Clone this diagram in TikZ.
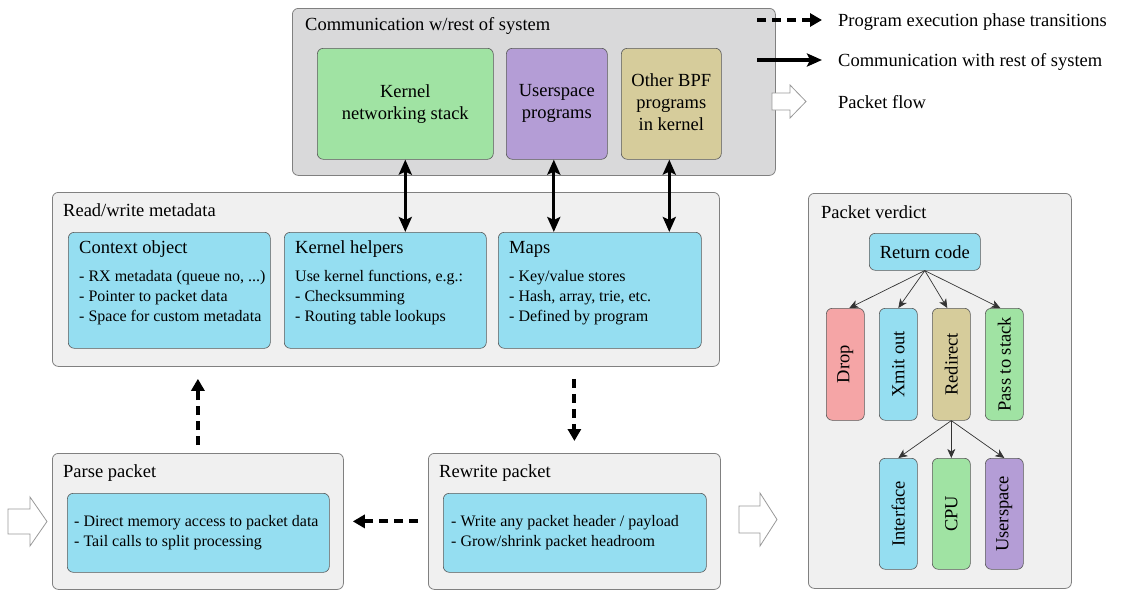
\documentclass[tikz,border=0pt]{standalone}
\usepackage{fontspec}
\setmainfont{Liberation Serif}
\usetikzlibrary{arrows.meta}
\definecolor{panelgray}{HTML}{D9D9DA}
\definecolor{panellight}{HTML}{F0F0F0}
\definecolor{cardblue}{HTML}{95DEF1}
\definecolor{cardgreen}{HTML}{A0E3A3}
\definecolor{cardpurple}{HTML}{B49DD6}
\definecolor{cardkhaki}{HTML}{D6CC9B}
\definecolor{cardred}{HTML}{F5A5A6}
\begin{document}
\begin{tikzpicture}[x=1pt,y=-1pt,
  panel/.style={draw=black!50, line width=0.8pt, rounded corners=6pt, anchor=north west, inner sep=0pt},
  card/.style={draw=black!65, line width=0.6pt, rounded corners=6pt, anchor=north west, inner sep=0pt},
  big/.style={font=\fontsize{18.5}{22}\selectfont},
  small/.style={font=\fontsize{16}{20}\selectfont},
  title/.style={big, anchor=base west, inner sep=0pt, yshift=-6pt},
  item/.style={small, anchor=base west, inner sep=0pt, yshift=-5.5pt},
  ctext/.style={big, align=center, inner sep=0pt},
  vtext/.style={big, rotate=90, inner sep=0pt},
  phase/.style={line width=4pt, dash pattern=on 9pt off 6pt, -{Triangle[length=12pt,width=13pt]}},
  syscomm/.style={line width=3.2pt, {Stealth[length=15pt,width=13pt,inset=3pt]}-{Stealth[length=15pt,width=13pt,inset=3pt]}},
  legcomm/.style={line width=3.2pt, -{Stealth[length=15pt,width=13pt,inset=3pt]}},
  branch/.style={draw=black!80, line width=0.7pt, -{Stealth[length=9pt,width=8pt,inset=2.5pt]}},
  flow/.style={draw=black!40, line width=0.8pt, fill=white}
]
\useasboundingbox (0,0) rectangle (1127,589);

% ---- communication with the rest of the system ----
\node[panel, fill=panelgray, minimum width=483, minimum height=167] (comm) at (292,8) {};
\node[title] (commT) at (305,24) {Communication w/rest of system};
\node[card, fill=cardgreen, minimum width=176, minimum height=111] (kns) at (317,48) {};
\node[ctext] (knsT) at (kns.center) {Kernel\\networking stack};
\node[card, fill=cardpurple, minimum width=101, minimum height=111] (ups) at (506,48) {};
\node[ctext] (upsT) at (ups.center) {Userspace\\programs};
\node[card, fill=cardkhaki, minimum width=100, minimum height=111] (obpf) at (621,48) {};
\node[ctext] (obpfT) at ([yshift=2pt]obpf.center) {Other BPF\\programs\\in kernel};

% ---- legend ----
\coordinate (l1a) at (757,20); \coordinate (l1b) at (822,20);
\draw[phase] (l1a) -- (l1b);
\node[title] (l1T) at (838,20) {Program execution phase transitions};
\coordinate (l2a) at (757,60); \coordinate (l2b) at (822,60);
\draw[legcomm] (l2a) -- (l2b);
\node[title] (l2T) at (838,60) {Communication with rest of system};
\draw[flow] (772,93) -- (790,93) -- (790,85) -- (806,101.5) -- (790,118) -- (790,110) -- (772,110) -- cycle;
\node[title] (l3T) at (838,102) {Packet flow};

% ---- read/write metadata ----
\node[panel, fill=panellight, minimum width=667, minimum height=174] (rw) at (52,192) {};
\node[title] (rwT) at (63,210) {Read/write metadata};

\node[card, fill=cardblue, minimum width=202, minimum height=116] (ctx) at (68,232) {};
\node[title] (ctxT) at (79,247) {Context object};
\node[item] (ctx1) at (79,276) {- RX metadata (queue no, ...)};
\node[item] (ctx2) at (79,296) {- Pointer to packet data};
\node[item] (ctx3) at (79,316) {- Space for custom metadata};

\node[card, fill=cardblue, minimum width=202, minimum height=116] (help) at (284,232) {};
\node[title] (helpT) at (295,247) {Kernel helpers};
\node[item] (help1) at (295,276) {Use kernel functions, e.g.:};
\node[item] (help2) at (295,296) {- Checksumming};
\node[item] (help3) at (295,316) {- Routing table lookups};

\node[card, fill=cardblue, minimum width=203, minimum height=116] (maps) at (498,232) {};
\node[title] (mapsT) at (509,247) {Maps};
\node[item] (maps1) at (509,276) {- Key/value stores};
\node[item] (maps2) at (509,296) {- Hash, array, trie, etc.};
\node[item] (maps3) at (509,316) {- Defined by program};

\draw[syscomm] (kns.south) -- (kns.south |- help.north);
\draw[syscomm] ([xshift=-3pt]ups.south) -- ([xshift=-3pt]ups.south |- maps.north);
\draw[syscomm] ([xshift=-2pt]obpf.south) -- ([xshift=-2pt]obpf.south |- maps.north);

% ---- parse / rewrite ----
\node[panel, fill=panellight, minimum width=291, minimum height=136] (parse) at (52,453) {};
\node[title] (parseT) at (63,471) {Parse packet};
\node[card, fill=cardblue, minimum width=262, minimum height=79] (parseC) at (67,493) {};
\node[item] (parse1) at (74,521) {- Direct memory access to packet data};
\node[item] (parse2) at (74,541) {- Tail calls to split processing};

\node[panel, fill=panellight, minimum width=292, minimum height=136] (rewrite) at (428,453) {};
\node[title] (rewriteT) at (439,471) {Rewrite packet};
\node[card, fill=cardblue, minimum width=263, minimum height=79] (rewriteC) at (443,493) {};
\node[item] (rewrite1) at (451,521) {- Write any packet header / payload};
\node[item] (rewrite2) at (451,541) {- Grow/shrink packet headroom};

\draw[phase, shorten <=8pt, shorten >=12pt] (parse.north) -- (parse.north |- rw.south);
\draw[phase, shorten <=12pt, shorten >=12pt] (rw.south -| rewrite.north) -- (rewrite.north);
\draw[phase, shorten <=10pt, shorten >=9pt] (rewrite.west) -- (parse.east);

% packet flow in and out
\draw[flow] (8,509) -- (30,509) -- (30,497) -- (47,521.5) -- (30,546) -- (30,534) -- (8,534) -- cycle;
\draw[flow] (739,506) -- (760,506) -- (760,493) -- (777,519.5) -- (760,546) -- (760,533) -- (739,533) -- cycle;

% ---- packet verdict ----
\node[panel, fill=panellight, minimum width=263, minimum height=395] (verdict) at (808,193) {};
\node[title] (verdictT) at (821,212) {Packet verdict};
\node[card, fill=cardblue, minimum width=111, minimum height=37] (ret) at (869,233) {};
\node[ctext] (retT) at (ret.center) {Return code};

\node[card, fill=cardred, minimum width=38, minimum height=112] (drop) at (826,308) {};
\node[vtext] (dropT) at (drop.center) {Drop};
\node[card, fill=cardblue, minimum width=38, minimum height=112] (xmit) at (879,308) {};
\node[vtext] (xmitT) at (xmit.center) {Xmit out};
\node[card, fill=cardkhaki, minimum width=38, minimum height=112] (redir) at (932,308) {};
\node[vtext] (redirT) at (redir.center) {Redirect};
\node[card, fill=cardgreen, minimum width=38, minimum height=112] (pass) at (985,308) {};
\node[vtext] (passT) at (pass.center) {Pass to stack};

\node[card, fill=cardblue, minimum width=38, minimum height=111] (iface) at (879,458) {};
\node[vtext] (ifaceT) at (iface.center) {Interface};
\node[card, fill=cardgreen, minimum width=38, minimum height=111] (cpu) at (932,458) {};
\node[vtext] (cpuT) at (cpu.center) {CPU};
\node[card, fill=cardpurple, minimum width=38, minimum height=111] (usp) at (985,458) {};
\node[vtext] (uspT) at (usp.center) {Userspace};

\draw[branch] (ret.south) -- ([xshift=4pt]drop.north);
\draw[branch] (ret.south) -- (xmit.north);
\draw[branch] (ret.south) -- ([xshift=-4pt]redir.north);
\draw[branch] (ret.south) -- ([xshift=-4pt]pass.north);
\draw[branch] (redir.south) -- (iface.north);
\draw[branch] (redir.south) -- (cpu.north);
\draw[branch] (redir.south) -- (usp.north);
\end{tikzpicture}
\end{document}
